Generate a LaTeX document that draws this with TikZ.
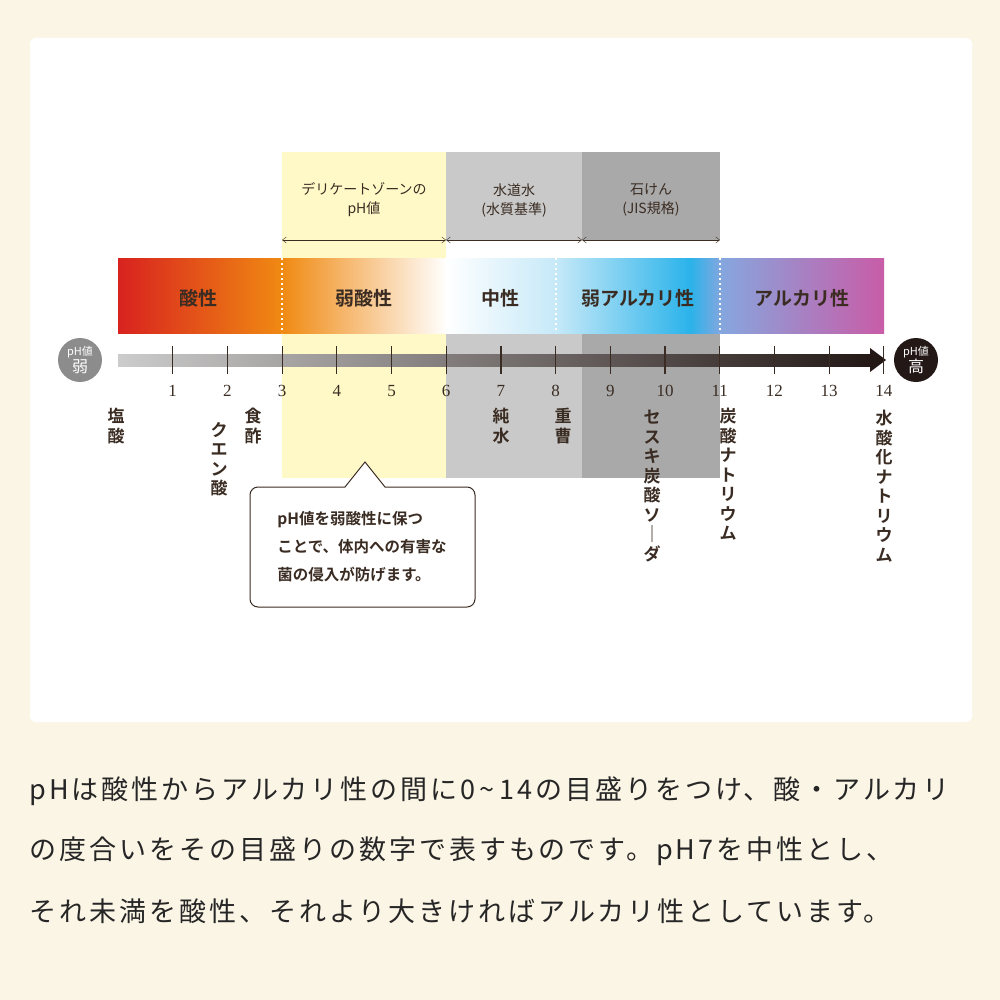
\documentclass[tikz,border=0pt]{standalone}
\usepackage{fontspec}
\setmainfont{Liberation Serif}
\newfontfamily\jp{Noto Sans CJK JP}
\newfontfamily\jpb{Noto Sans CJK JP Bold}
\newfontfamily\jpw[LetterSpace=11]{Noto Sans CJK JP}
\usetikzlibrary{arrows.meta}
\definecolor{cream}{HTML}{FBF5E6}
\definecolor{ylw}{HTML}{FFF9C8}
\definecolor{gA}{HTML}{C9C9C9}
\definecolor{gB}{HTML}{A9A9A9}
\definecolor{txt}{HTML}{3A2C22}
\definecolor{cR}{HTML}{D8221F}
\definecolor{cO}{HTML}{F08A12}
\definecolor{cLB}{HTML}{C6E9F8}
\definecolor{cC}{HTML}{2AB3EA}
\definecolor{cL}{HTML}{86A6DE}
\definecolor{cP}{HTML}{C95CA7}
\definecolor{axL}{HTML}{CCCCCC}
\definecolor{axD}{HTML}{231815}
\definecolor{gC}{HTML}{8C8C8C}
\tikzset{barlbl/.style={font=\jpb\fontsize{19}{19}\selectfont,text=txt},
 toplbl/.style={font=\jp\fontsize{14}{19}\selectfont,align=center,text=txt},
 num/.style={font=\fontsize{17}{17}\selectfont,text=txt},
 vlbl/.style={font=\jpb\fontsize{17}{19.5}\selectfont,align=center,anchor=north,text=txt,inner sep=0},
 btxt/.style={font=\jpw\fontsize{27}{27}\selectfont,anchor=west,text=black!85},
 zarr/.style={{Straight Barb[length=4pt,width=6pt]}-{Straight Barb[length=4pt,width=6pt]},thin,txt}}
\begin{document}
\begin{tikzpicture}[x=1pt,y=-1pt]
\useasboundingbox (0,0) rectangle (1000,1000);
\fill[cream] (0,0) rectangle (1000,1000);
\fill[white,rounded corners=6] (30,38) rectangle (972,722);
\fill[ylw] (282,152) rectangle (446,478);
\fill[gA] (446,152) rectangle (582,240);
\fill[gB] (582,152) rectangle (720,240);
\fill[gA] (446,333) rectangle (582,478);
\fill[gB] (582,333) rectangle (720,478);
\node[toplbl] (z1) at (364,200) {デリケートゾーンの\\pH値};
\node[toplbl] (z2) at (514,200) {水道水\\(水質基準)};
\node[toplbl] (z3) at (651,200) {石けん\\(JIS規格)};
\coordinate (a0) at (282,240); \coordinate (a1) at (446,240);
\coordinate (a2) at (582,240); \coordinate (a3) at (720,240);
\draw[zarr] (a0)--(a1); \draw[zarr] (a1)--(a2); \draw[zarr] (a2)--(a3);
\shade[left color=cR, right color=cO] (118,258) rectangle (282.5,333);
\shade[left color=cO, right color=white] (282,258) rectangle (446.5,333);
\shade[left color=white, right color=cLB] (446,258) rectangle (556.5,333);
\shade[left color=cLB, right color=cC] (556,258) rectangle (690.5,333);
\shade[left color=cC, right color=cL] (690,258) rectangle (722,333);
\shade[left color=cL, right color=cP] (721.5,258) rectangle (884,333);
\foreach \x in {282,446,556,720} \draw[white,line width=1.6pt,dash pattern=on 2pt off 3pt] (\x,258)--(\x,333);
\node[barlbl] (b1) at (198,298) {酸性};
\node[barlbl] (b2) at (364,298) {弱酸性};
\node[barlbl] (b3) at (500,298) {中性};
\node[barlbl] (b4) at (638,298) {弱アルカリ性};
\node[barlbl] (b5) at (802,298) {アルカリ性};
\shade[left color=axL, right color=axD] (118,354) rectangle (872,366);
\fill[axD] (870,348) -- (886,360) -- (870,372) -- cycle;
\foreach \i in {1,...,14} {
 \draw[txt,line width=1.2pt] ({118+54.7*\i},346)--({118+54.7*\i},374);
 \node[num] (n\i) at ({118+54.7*\i},391) {\i};
}
\node[circle,fill=gC,minimum size=44pt,inner sep=0,text=white,align=center,font=\jp\fontsize{11}{12}\selectfont] (lo) at (80,360) {pH値\\\fontsize{16}{16}\selectfont 弱};
\node[circle,fill=axD,minimum size=44pt,inner sep=0,text=white,align=center,font=\jp\fontsize{11}{12}\selectfont] (hi) at (916,360) {pH値\\\fontsize{16}{16}\selectfont 高};
\node[vlbl] (v1) at (116,408) {塩\\酸};
\node[vlbl] (v2) at (219,422) {ク\\エ\\ン\\酸};
\node[vlbl] (v3) at (253,408) {食\\酢};
\node[vlbl] (v4) at (501,408) {純\\水};
\node[vlbl] (v5) at (563,408) {重\\曹};
\node[vlbl] (v6) at (652,410) {セ\\ス\\キ\\炭\\酸\\ソ\\｜\\ダ};
\node[vlbl] (v7) at (728,408) {炭\\酸\\ナ\\ト\\リ\\ウ\\ム};
\node[vlbl] (v8) at (884,410) {水\\酸\\化\\ナ\\ト\\リ\\ウ\\ム};
\draw[txt,line width=1pt,fill=white,rounded corners=8] (250,487) rectangle (475,607);
\fill[white] (345,488) -- (365,462) -- (385,488) -- cycle;
\draw[txt,line width=1pt] (345,487) -- (365,462) -- (385,487);
\node[font=\jpb\fontsize{15.5}{28}\selectfont,align=left,text=txt] (call) at (362,547) {pH値を弱酸性に保つ\\ことで、体内への有害な\\菌の侵入が防げます。};
\node[btxt] (t1) at (26,791) {pHは酸性からアルカリ性の間に0\,\textasciitilde\,14の目盛りをつけ、酸・アルカリ};
\node[btxt] (t2) at (26,851) {の度合いをその目盛りの数字で表すものです。pH7を中性とし、};
\node[btxt] (t3) at (26,911) {それ未満を酸性、それより大きければアルカリ性としています。};
\end{tikzpicture}
\end{document}
